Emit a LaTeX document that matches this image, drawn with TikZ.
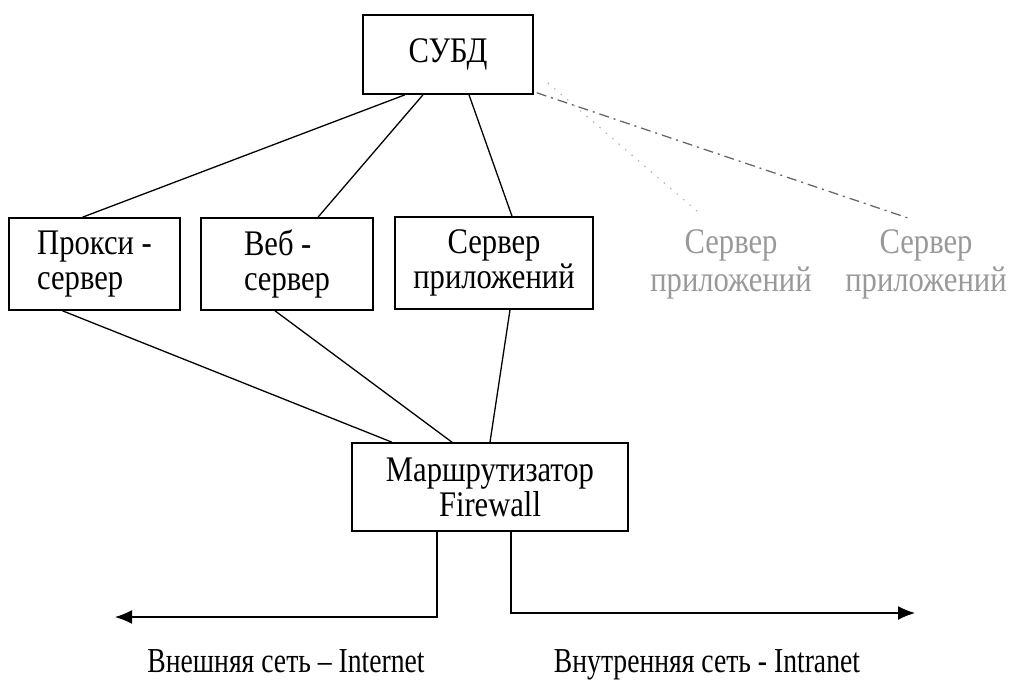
\documentclass[tikz,border=0pt]{standalone}
\usepackage{fontspec}
\setmainfont{Liberation Serif}
\newfontfamily\tallserif[FakeStretch=0.85]{Liberation Serif}
\newfontfamily\narrowserif[FakeStretch=0.79]{Liberation Serif}
\usetikzlibrary{arrows.meta}
\tikzset{
  box/.style={draw, line width=1.6pt, inner sep=0pt, font=\tallserif\fontsize{36}{35}\selectfont},
  conn/.style={line width=1.3pt},
  faint/.style={text=black!40, font=\tallserif\fontsize{36}{38}\selectfont, align=center},
  lbl/.style={font=\narrowserif\fontsize{35}{38}\selectfont, anchor=base},
  arr/.style={line width=1.4pt, -{Latex[length=17pt,width=14pt]}}
}
\begin{document}
\begin{tikzpicture}[x=1pt,y=-1pt]
\useasboundingbox (0,0) rectangle (1010,683);
\node[box, minimum width=170pt, minimum height=79pt] (subd) at (448,54.5) {СУБД};
\node[box, minimum width=171pt, minimum height=92pt, align=left] (proxy) at (94.5,264) {Прокси -\\сервер};
\node[box, minimum width=172pt, minimum height=92pt, align=left] (web) at (287,264) {Веб -\\сервер};
\node[box, minimum width=198pt, minimum height=92pt, align=center] (app) at (494,263) {Сервер\\приложений};
\node[box, minimum width=276pt, minimum height=88pt, align=center] (router) at (490,487) {Маршрутизатор\\Firewall};
\node[faint] (app2) at (731,264) {Сервер\\приложений};
\node[faint] (app3) at (926,264) {Сервер\\приложений};
\coordinate (dd) at (908,218);
\coordinate (dt) at (698,212);
\coordinate (lt) at (115,617);
\coordinate (rt) at (915,613);
% SUBD connections
\draw[conn] ([xshift=-43pt]subd.south) -- ([xshift=-12pt]proxy.north);
\draw[conn] ([xshift=-25pt]subd.south) -- ([xshift=31pt]web.north);
\draw[conn] ([xshift=21pt]subd.south) -- ([xshift=18pt]app.north);
\draw[line width=1.3pt, black!60, dash pattern=on 10pt off 5pt on 2pt off 5pt] ([xshift=3pt,yshift=2pt]subd.south east) -- (dd);
\draw[line width=1.1pt, black!30, dash pattern=on 1.5pt off 7pt] ([xshift=14pt,yshift=12pt]subd.south east) -- (dt);
% router connections
\draw[conn] ([xshift=-32pt]proxy.south) -- ([xshift=-98pt]router.north);
\draw[conn] ([xshift=-12pt]web.south) -- ([xshift=-38pt]router.north);
\draw[conn] ([xshift=16pt]app.south) -- ([xshift=0pt]router.north);
% outputs
\draw[arr] ([xshift=-53pt]router.south) |- (lt);
\draw[arr] ([xshift=21pt]router.south) |- (rt);
\node[lbl] (ext) at (286,672) {Внешняя сеть – Internet};
\node[lbl] (int) at (707,672) {Внутренняя сеть - Intranet};
\end{tikzpicture}
\end{document}
